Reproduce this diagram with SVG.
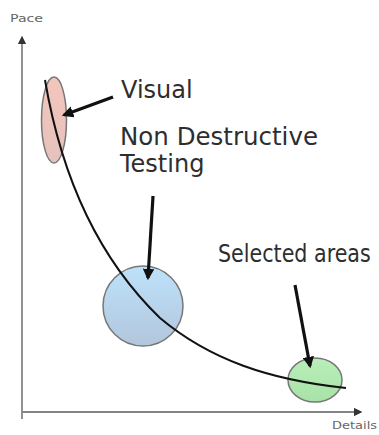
<svg xmlns="http://www.w3.org/2000/svg" width="379" height="435" viewBox="0 0 379 435">
<style>
.axis{stroke:#858585;stroke-width:1.8;fill:none}
.ptr{stroke:#111;stroke-width:3.2;fill:none;marker-end:url(#ah)}
.lbl{font-family:"DejaVu Sans",Verdana,sans-serif;fill:#2e2e2e}
.small{font-family:"DejaVu Sans",Verdana,sans-serif;fill:#666;font-size:10px}
.shape{stroke:#777;stroke-width:1.5}
</style>
<defs>
<marker id="ah" viewBox="0 0 10 10" refX="8" refY="5" markerWidth="3.6" markerHeight="3.6" orient="auto" markerUnits="strokeWidth"><path d="M0,0 L10,5 L0,10 z" fill="#111"/></marker>
<marker id="ax" viewBox="0 0 10 10" refX="5" refY="5" markerWidth="4.8" markerHeight="4.8" orient="auto" markerUnits="strokeWidth"><path d="M0,0 L10,5 L0,10 z" fill="#333"/></marker>
<linearGradient id="gp" x1="0" y1="0" x2="0" y2="1"><stop offset="0" stop-color="#f2c6bc"/><stop offset="1" stop-color="#e6c2bc"/></linearGradient>
<linearGradient id="gb" x1="0" y1="0" x2="0" y2="1"><stop offset="0" stop-color="#bde2fb"/><stop offset="1" stop-color="#b2c6dc"/></linearGradient>
<linearGradient id="gg" x1="0" y1="0" x2="0" y2="1"><stop offset="0" stop-color="#b9efb9"/><stop offset="1" stop-color="#a8e2a8"/></linearGradient>
</defs>
<g id="axes">
<line class="axis" x1="22" y1="419" x2="22" y2="40" marker-end="url(#ax)"/>
<line class="axis" x1="22" y1="412" x2="358" y2="412" marker-end="url(#ax)"/>
<text class="small" x="10" y="22" textLength="33" lengthAdjust="spacingAndGlyphs">Pace</text>
<text class="small" x="332" y="429" textLength="45" lengthAdjust="spacingAndGlyphs">Details</text>
</g>
<g id="visual"><ellipse class="shape" cx="54" cy="120" rx="12.5" ry="43" fill="url(#gp)"/></g>
<g id="ndt"><circle class="shape" cx="143" cy="306" r="40" fill="url(#gb)"/></g>
<g id="selected"><ellipse class="shape" cx="315" cy="380" rx="27" ry="22" fill="url(#gg)"/></g>
<g id="connectors">
<path d="M45,80 C62,180 100,260 160,318 C210,360 270,380 346,388" stroke="#111" stroke-width="2" fill="none"/>
<line class="ptr" x1="113" y1="97" x2="64" y2="115"/>
<line class="ptr" x1="153" y1="196" x2="148" y2="278"/>
<line class="ptr" x1="295" y1="285" x2="310" y2="366"/>
</g>
<g id="labels">
<text class="lbl" x="121" y="98" font-size="24">Visual</text>
<text class="lbl" x="120" y="145" font-size="24" textLength="198" lengthAdjust="spacingAndGlyphs">Non Destructive</text>
<text class="lbl" x="120" y="172" font-size="24">Testing</text>
<text class="lbl" transform="translate(218,262) scale(0.86,1)" x="0" y="0" font-size="24">Selected areas</text>
</g>
</svg>
